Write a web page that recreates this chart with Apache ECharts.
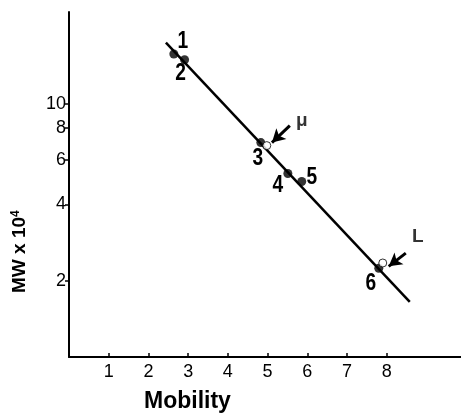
<!DOCTYPE html>
<html><head><meta charset="utf-8">
<script src="https://cdn.jsdelivr.net/npm/echarts@6/dist/echarts.min.js"></script>
<style>html,body{margin:0;padding:0;background:#fff}#c{width:461px;height:414px}</style>
</head><body><div id="c"></div>
<script>
// Data
const pointLabels = ['1','2','3','4','5','6'];
const pointMobility = [2.64, 2.91, 4.83, 5.51, 5.86, 7.80];
const pointMW = [15.7, 14.9, 7.02, 5.30, 4.93, 2.24];
const openLabels = ['μ','L'];
const openMobility = [4.98, 7.90];
const openMW = [6.83, 2.35];
const fitMobility = [2.44, 8.58];
const fitMW = [17.4, 1.65];
const arrowStart = [[5.56, 8.19], [8.48, 2.57]];
const arrowEnd = [[5.11, 7.02], [8.05, 2.28]];
const xTicks = [1,2,3,4,5,6,7,8];
const yTicks = [2,4,6,8,10];

// label offsets (styling)
const pointOffsets = [[9,-13],[-4,14],[-3,16],[-10,12],[10,-4],[-8,15]];
const openOffsets = [[35,-25],[35,-26]];

const chart = echarts.init(document.getElementById('c'), null, {renderer:'canvas'});
chart.setOption({
  animation:false,
  grid:{left:69, right:0, top:12, bottom:57},
  xAxis:{
    type:'value', min:0, max:9.87,
    axisLine:{lineStyle:{color:'#000', width:2}},
    axisTick:{show:true, inside:true, length:4, lineStyle:{color:'#000', width:1.5}, customValues:xTicks},
    axisLabel:{color:'#000', fontSize:18, fontFamily:'Liberation Sans', margin:6, customValues:xTicks},
    splitLine:{show:false}
  },
  yAxis:{
    type:'log', logBase:10, min:1, max:23,
    axisLine:{show:true, lineStyle:{color:'#000', width:2}},
    axisTick:{show:true, inside:false, length:4, lineStyle:{color:'#000', width:1.5}, customValues:yTicks},
    axisLabel:{color:'#000', fontSize:18, fontFamily:'Liberation Sans', margin:3, customValues:yTicks},
    splitLine:{show:false}, minorTick:{show:false}
  },
  graphic:[
    {type:'text', left:144, top:390, style:{text:'Mobility', font:"bold 23px 'Liberation Sans'", fill:'#000'}},
    {type:'text', x:10, y:293, rotation:Math.PI/2,
     style:{text:'MW x 10{s|4}', font:"bold 19px 'Liberation Sans'", fill:'#000',
       rich:{s:{fontSize:12, fontWeight:'bold', fontFamily:'Liberation Sans', verticalAlign:'top', padding:[0,0,8,0]}}}}
  ],
  series:[
    {type:'line', data:fitMobility.map((x,i)=>[x,fitMW[i]]), showSymbol:false, symbol:'none',
     lineStyle:{color:'#000', width:2.5}, z:2},
    {type:'scatter', symbol:'circle', symbolSize:9, itemStyle:{color:'#000'}, z:3,
     data:pointMobility.map((x,i)=>[x,pointMW[i]])},
    {type:'custom', z:5, silent:true,
     data:pointMobility.map((x,i)=>[x,pointMW[i]]),
     renderItem:function(params, api){
       const p = api.coord([api.value(0), api.value(1)]);
       const o = pointOffsets[params.dataIndex];
       return {type:'text', x:p[0]+o[0], y:p[1]+o[1], scaleX:0.8,
         style:{text:pointLabels[params.dataIndex], font:"bold 24px 'Liberation Sans'", fill:'#000', align:'center', verticalAlign:'middle'}};
     }},
    {type:'scatter', symbol:'circle', symbolSize:8, itemStyle:{color:'#fff', borderColor:'#000', borderWidth:1}, z:4,
     data:openMobility.map((x,i)=>({value:[x,openMW[i]], label:{show:true, position:'inside', offset:openOffsets[i], formatter:openLabels[i]}})),
     label:{color:'#000', fontSize:19, fontWeight:'bold', fontFamily:'Liberation Sans'},
     markLine:{silent:true, symbol:['none','arrow'], symbolSize:[11,13], label:{show:false},
       lineStyle:{color:'#000', width:3, type:'solid'},
       emphasis:{disabled:true},
       data:arrowStart.map((s,i)=>[{coord:s},{coord:arrowEnd[i]}])}}
  ]
});
</script></body></html>
